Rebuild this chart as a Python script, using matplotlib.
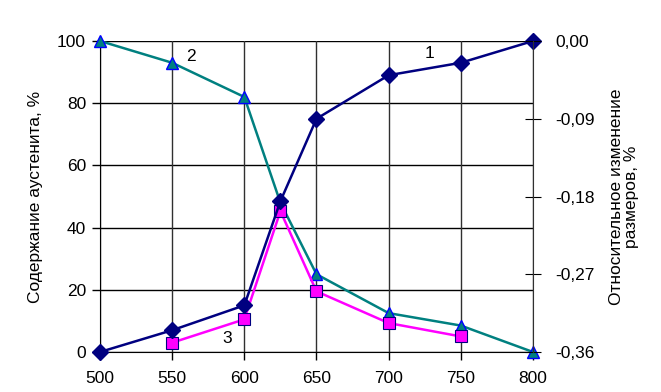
import matplotlib.pyplot as plt

plt.rcParams['font.family'] = ['Liberation Sans', 'DejaVu Sans']

# data
temp1 = [500, 550, 600, 625, 650, 700, 750, 800]
curve1 = [0, 7, 15, 48.5, 75, 89, 93, 100]
temp2 = [500, 550, 600, 625, 650, 700, 750, 800]
curve2 = [100, 93, 82, 48, 25, 12.5, 8.5, 0]
temp3 = [550, 600, 625, 650, 700, 750]
curve3 = [3, 10.5, 45.3, 19.5, 9.3, 5]

xticks = [500, 550, 600, 650, 700, 750, 800]
yticks = [0, 20, 40, 60, 80, 100]
right_pos = [0, 25, 50, 75, 100]
right_labels = ['-0,36', '-0,27', '-0,18', '-0,09', '0,00']

fs = 12.5
fig = plt.figure(figsize=(6.61, 3.92), dpi=100)
ax = fig.add_axes([100 / 661, 1 - 352 / 392, 433 / 661, 311 / 392])

for y in yticks:
    ax.axhline(y, color='black', lw=1, zorder=1)
for x in xticks:
    ax.axvline(x, color='#303030', lw=1, zorder=1)

ax.plot(temp2, curve2, '-', color='#008080', lw=1.8, marker='^', ms=9,
        mfc='#008080', mec='#0000ff', mew=1, zorder=3, clip_on=False)
ax.plot(temp3, curve3, '-', color='#ff00ff', lw=1.8, marker='s', ms=8,
        mfc='#ff00ff', mec='#000080', mew=0.8, zorder=4, clip_on=False)
ax.plot(temp1, curve1, '-', color='#000080', lw=1.8, marker='D', ms=8,
        mfc='#000080', mec='#000080', zorder=5, clip_on=False)

ax.text(728, 96, '1', fontsize=fs, ha='center', va='center')
ax.text(563, 95, '2', fontsize=fs, ha='center', va='center')
ax.text(588, 4.5, '3', fontsize=fs, ha='center', va='center')

ax.set_xlim(500, 800)
ax.set_ylim(0, 100)
ax.set_xticks(xticks)
ax.set_yticks(yticks)
ax.tick_params(labelsize=fs, length=6, color='black', width=1)
ax.tick_params(axis='x', pad=8)
ax.tick_params(axis='y', pad=4)
for s in ['top', 'right']:
    ax.spines[s].set_visible(False)
ax.set_ylabel('Содержание аустенита, %', fontsize=fs, labelpad=10)

ax2 = ax.twinx()
ax2.set_ylim(0, 100)
ax2.set_yticks(right_pos)
ax2.set_yticklabels(right_labels)
ax2.tick_params(labelsize=fs, direction='inout', length=12, pad=10)
for s in ['top', 'left', 'bottom']:
    ax2.spines[s].set_visible(False)
ax2.spines['right'].set_color('#303030')
ax2.set_ylabel('Относительное изменение\nразмеров, %', fontsize=fs,
               rotation=90, labelpad=10, linespacing=1.0)

fig.savefig('out.png', dpi=100)
